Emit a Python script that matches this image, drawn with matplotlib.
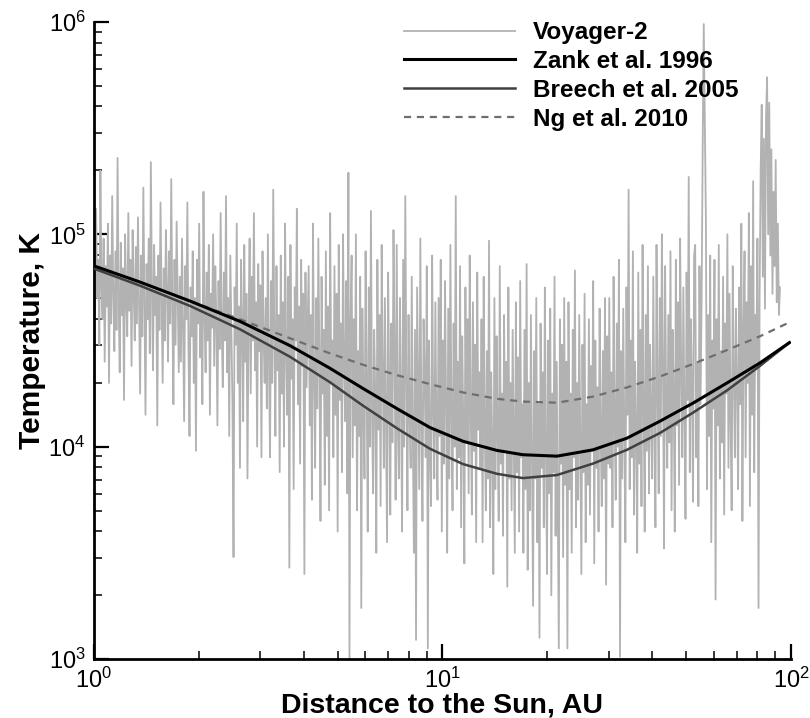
import numpy as np
import matplotlib.pyplot as plt
from matplotlib.ticker import LogLocator, LogFormatterSciNotation, NullFormatter

plt.rcParams['font.family'] = ['Liberation Sans', 'DejaVu Sans']
plt.rcParams['mathtext.fontset'] = 'custom'
plt.rcParams['mathtext.rm'] = 'Liberation Sans'

# ---- Voyager-2 proton temperature, log10(T [K]) read along the trajectory ----
voyager_logT = [
    # 1.0 - 1.3 AU
    4.95, 4.62, 5.12, 4.70, 4.88, 4.48, 5.30, 4.75, 4.60, 4.98,
    4.40, 4.85, 4.66, 5.05, 4.30, 4.90, 4.58, 5.18, 4.72, 4.45,
    4.92, 4.55, 5.36, 4.68, 4.35, 4.96, 4.62, 4.84, 4.22, 5.00,
    4.70, 4.52, 5.10, 4.64, 4.88, 4.38, 5.02, 4.74, 4.50, 4.94,
    # 1.3 - 1.8 AU
    4.58, 5.08, 4.66, 4.25, 4.90, 4.52, 5.22, 4.70, 4.15, 4.86,
    4.60, 4.98, 4.44, 5.34, 4.72, 4.36, 4.95, 4.62, 4.80, 4.10,
    4.90, 4.55, 5.15, 4.68, 4.30, 4.84, 4.50, 5.02, 4.75, 4.40,
    4.92, 4.58, 5.26, 4.64, 4.20, 4.88, 4.48, 5.06, 4.70, 4.35,
    # 1.8 - 2.4 AU
    4.80, 4.40, 4.98, 4.55, 4.12, 4.85, 4.60, 5.15, 4.48, 4.05,
    4.75, 4.52, 4.92, 4.30, 4.70, 3.98, 4.88, 4.58, 5.05, 4.42,
    4.66, 4.20, 5.20, 4.62, 4.35, 4.82, 4.50, 4.95, 4.15, 4.72,
    4.56, 5.00, 4.38, 4.85, 4.60, 4.10, 4.78, 4.46, 5.10, 4.55,
    # 2.4 - 3.2 AU
    4.28, 4.82, 4.50, 5.18, 4.35, 4.70, 4.05, 4.90, 4.55, 4.20,
    3.48, 4.75, 4.48, 5.05, 4.30, 4.66, 3.90, 4.88, 4.58, 4.12,
    4.95, 4.40, 4.72, 3.85, 4.60, 4.98, 4.25, 4.80, 4.50, 5.10,
    4.36, 4.68, 4.00, 4.86, 4.45, 4.76, 3.95, 4.92, 4.52, 4.30,
    # 3.2 - 4.2 AU
    4.70, 4.18, 5.00, 4.40, 3.95, 4.78, 4.30, 5.21, 4.52, 4.05,
    4.85, 4.36, 4.62, 3.88, 4.90, 4.25, 4.68, 4.00, 5.05, 4.45,
    4.15, 4.80, 3.43, 4.95, 4.32, 4.60, 3.80, 4.75, 4.50, 5.12,
    4.20, 4.66, 3.92, 4.88, 4.38, 4.72, 3.40, 4.82, 4.28, 4.58,
    # 4.2 - 5.7 AU
    4.85, 4.10, 4.62, 3.75, 5.05, 4.35, 3.90, 4.70, 4.18, 4.98,
    4.40, 3.65, 4.80, 4.25, 4.55, 3.82, 4.92, 4.05, 4.66, 3.70,
    5.10, 4.30, 4.50, 3.95, 4.85, 4.15, 4.72, 3.60, 4.95, 4.22,
    4.58, 3.88, 5.00, 4.40, 4.12, 4.78, 3.78, 5.29, 3.00, 4.60,
    # 5.7 - 7.5 AU
    4.90, 3.95, 4.60, 4.10, 5.00, 3.70, 4.45, 4.05, 4.80, 3.24,
    4.65, 4.20, 3.85, 4.92, 4.30, 3.60, 4.75, 4.00, 5.11, 4.15,
    3.78, 4.55, 4.25, 3.50, 4.88, 4.08, 4.62, 3.72, 4.95, 4.35,
    3.90, 4.70, 4.12, 3.55, 4.82, 4.28, 3.68, 4.58, 4.02, 5.02,
    # 7.5 - 10 AU
    4.45, 3.75, 4.95, 4.10, 3.85, 4.70, 4.22, 3.60, 4.88, 4.00,
    5.18, 4.30, 3.70, 4.62, 4.15, 3.90, 4.80, 4.05, 3.50, 4.55,
    3.09, 4.75, 4.25, 3.80, 4.98, 4.10, 3.65, 4.60, 4.35, 3.95,
    4.85, 3.05, 4.50, 4.00, 3.72, 4.90, 4.18, 3.85, 4.68, 4.08,
    # 10 - 13 AU
    3.75, 4.70, 4.05, 4.88, 3.60, 4.50, 3.92, 4.78, 4.20, 3.50,
    4.65, 3.85, 4.95, 4.12, 3.70, 4.58, 4.00, 5.18, 3.80, 4.40,
    3.95, 4.85, 3.62, 4.52, 4.10, 3.45, 4.75, 4.02, 4.60, 3.78,
    4.90, 4.15, 3.68, 4.68, 3.98, 4.48, 3.55, 4.82, 4.08, 4.35,
    # 13 - 17 AU
    3.90, 4.60, 3.55, 4.80, 4.10, 3.70, 4.45, 3.85, 4.97, 3.62,
    4.35, 4.00, 3.40, 4.70, 3.80, 4.52, 4.05, 3.65, 4.85, 3.92,
    4.25, 3.58, 4.62, 3.98, 4.40, 3.34, 4.75, 3.85, 4.30, 3.70,
    4.55, 4.02, 3.50, 4.68, 3.88, 4.42, 3.60, 4.78, 3.95, 4.20,
    # 17 - 23 AU
    3.50, 4.55, 3.80, 4.86, 3.42, 4.30, 3.70, 4.62, 3.95, 3.25,
    4.45, 3.85, 4.70, 3.55, 4.20, 3.10, 4.58, 3.90, 4.35, 3.62,
    4.75, 3.98, 3.40, 4.50, 3.78, 4.65, 3.30, 4.25, 3.88, 4.80,
    3.58, 4.40, 3.72, 3.05, 4.60, 3.92, 4.48, 3.48, 4.70, 3.82,
    # 23 - 30 AU
    4.40, 3.05, 4.68, 3.80, 4.25, 3.50, 4.55, 3.95, 4.83, 3.62,
    4.30, 3.75, 4.62, 4.00, 3.40, 4.48, 3.88, 4.72, 3.55, 4.20,
    3.82, 4.60, 3.68, 4.38, 3.98, 4.78, 3.45, 4.50, 3.90, 4.28,
    3.60, 4.65, 4.05, 3.72, 4.45, 3.85, 4.70, 3.35, 4.52, 3.92,
    # 30 - 40 AU
    4.70, 3.90, 4.35, 3.62, 4.80, 4.10, 3.75, 4.58, 4.00, 4.88,
    3.01, 4.45, 3.85, 4.65, 4.05, 3.55, 4.75, 4.15, 5.21, 3.80,
    4.50, 3.95, 4.92, 3.68, 4.40, 4.08, 3.50, 4.82, 3.92, 4.55,
    3.72, 4.95, 4.20, 3.60, 4.62, 3.98, 4.85, 3.78, 4.48, 4.12,
    # 40 - 53 AU
    3.85, 4.80, 4.12, 3.62, 4.95, 4.28, 3.78, 4.70, 4.05, 5.00,
    4.40, 3.52, 4.85, 4.18, 3.90, 4.62, 4.02, 4.92, 3.70, 4.55,
    4.25, 3.60, 4.88, 4.10, 4.68, 3.82, 4.98, 4.35, 3.95, 4.75,
    4.15, 3.66, 4.82, 4.22, 5.27, 3.88, 4.60, 4.30, 3.74, 4.90,
    # 53 - 70 AU
    4.95, 3.95, 4.40, 3.72, 4.85, 4.20, 4.70, 5.40, 5.99, 5.54,
    5.07, 3.80, 4.62, 4.05, 4.90, 3.55, 4.50, 4.18, 4.88, 3.28,
    4.60, 4.10, 4.95, 3.85, 4.45, 4.02, 4.80, 3.68, 4.58, 4.25,
    5.00, 3.90, 4.72, 4.12, 3.70, 4.85, 4.35, 3.95, 4.65, 4.30,
    # 70 - 93 AU
    3.80, 4.75, 4.20, 5.05, 3.65, 4.55, 4.92, 3.95, 4.68, 4.30,
    5.10, 3.72, 4.85, 4.15, 5.25, 3.88, 4.62, 4.40, 4.98, 3.24,
    4.70, 5.30, 5.61, 4.80, 5.45, 4.65, 5.55, 5.74, 5.00, 5.62,
    4.90, 5.40, 4.72, 5.20, 4.85, 5.35, 4.68, 5.05, 4.62, 4.75,
]
voyager_r = np.geomspace(1.0, 93.0, len(voyager_logT))
voyager_T = 10.0 ** np.array(voyager_logT)

# ---- model temperature profiles ----
model_r = [1.0, 1.355, 1.886, 2.624, 3.652, 4.755, 5.913, 7.404, 9.21, 11.45,
           14.33, 17.02, 21.31, 27.03, 33.83, 42.09, 52.34, 65.53, 81.5, 99.0]

zank_T = [7.10e4, 5.96e4, 4.85e4, 3.89e4, 2.99e4, 2.34e4, 1.88e4, 1.51e4, 1.23e4, 1.06e4,
          9.6e3, 9.16e3, 9.02e3, 9.66e3, 1.096e4, 1.318e4, 1.603e4, 1.995e4, 2.48e4, 3.09e4]

breech_T = [6.89e4, 5.73e4, 4.60e4, 3.57e4, 2.65e4, 2.01e4, 1.56e4, 1.22e4, 9.77e3, 8.28e3,
            7.45e3, 7.11e3, 7.35e3, 8.32e3, 9.66e3, 1.16e4, 1.445e4, 1.84e4, 2.40e4, 3.09e4]

ng_T = [7.10e4, 5.96e4, 4.85e4, 3.98e4, 3.24e4, 2.75e4, 2.43e4, 2.17e4, 1.97e4, 1.80e4,
        1.68e4, 1.63e4, 1.61e4, 1.72e4, 1.90e4, 2.14e4, 2.45e4, 2.85e4, 3.31e4, 3.85e4]

fig = plt.figure(figsize=(8.1, 7.18), dpi=100)
ax = fig.add_axes([0.116, 0.0822, 0.8605, 0.8872])

ax.plot(voyager_r, voyager_T, color='#b2b2b2', lw=1.3, label='Voyager-2', zorder=2)
ax.plot(model_r, zank_T, color='black', lw=2.2, label='Zank et al. 1996', zorder=5)
ax.plot(model_r, breech_T, color='#404040', lw=1.8, label='Breech et al. 2005', zorder=4)
ax.plot(model_r, ng_T, color='#6e6e6e', lw=1.6, dashes=(3.2, 2.6), label='Ng et al. 2010', zorder=3)

ax.set_xscale('log')
ax.set_yscale('log')
ax.set_xlim(1, 100)
ax.set_ylim(1e3, 1e6)

for side in ('top', 'right'):
    ax.spines[side].set_visible(False)
for side in ('left', 'bottom'):
    ax.spines[side].set_linewidth(2.0)

ax.xaxis.set_major_locator(LogLocator(base=10, numticks=5))
ax.yaxis.set_major_locator(LogLocator(base=10, numticks=5))
ax.xaxis.set_minor_locator(LogLocator(base=10, subs=np.arange(2, 10), numticks=10))
ax.yaxis.set_minor_locator(LogLocator(base=10, subs=np.arange(2, 10), numticks=10))
ax.xaxis.set_major_formatter(LogFormatterSciNotation())
ax.yaxis.set_major_formatter(LogFormatterSciNotation())
ax.xaxis.set_minor_formatter(NullFormatter())
ax.yaxis.set_minor_formatter(NullFormatter())

ax.tick_params(which='both', direction='in', top=False, right=False, labelsize=17)
ax.tick_params(which='major', length=11, width=1.6)
ax.tick_params(which='minor', length=6, width=1.1)
ax.tick_params(axis='x', pad=6)
ax.tick_params(axis='y', pad=6)

ax.set_xlabel('Distance to the Sun, AU', fontsize=20.5, fontweight='bold', labelpad=0)
ax.set_ylabel('Temperature, K', fontsize=21.5, fontweight='bold', labelpad=2)

ax.legend(loc='upper left', bbox_to_anchor=(0.445, 1.0015), frameon=False,
          prop={'size': 17.5, 'weight': 'bold'}, handlelength=4.55, handletextpad=0.75,
          labelspacing=0.24, borderpad=0, borderaxespad=0)

fig.savefig('out.png', dpi=100)
